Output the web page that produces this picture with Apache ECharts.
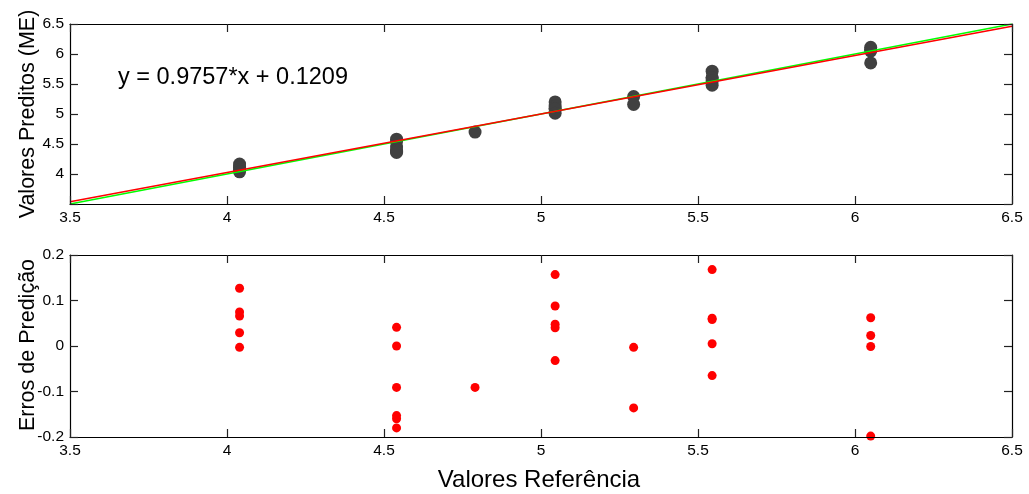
<!DOCTYPE html>
<html>
<head>
<meta charset="utf-8">
<script src="https://cdn.jsdelivr.net/npm/echarts@6/dist/echarts.min.js"></script>
<style>html,body{margin:0;padding:0;background:#fff}#c{width:1029px;height:494px}</style>
</head>
<body>
<div id="c"></div>
<script>
// ---- data ----
const refValues  = [4.04,4.04,4.04,4.04,4.04, 4.54,4.54,4.54,4.54,4.54,4.54, 4.79, 5.045,5.045,5.045,5.045,5.045, 5.295,5.295, 5.545,5.545,5.545,5.545,5.545, 6.05,6.05,6.05,6.05];
const predValues = [4.167,4.115,4.106,4.069,4.037, 4.581,4.540,4.449,4.387,4.380,4.360, 4.699, 5.202,5.133,5.093,5.085,5.013, 5.292,5.159, 5.713,5.606,5.603,5.550,5.480, 6.112,6.073,6.049,5.852];
const errValues  = [0.127,0.075,0.066,0.029,-0.003, 0.041,0.000,-0.091,-0.153,-0.160,-0.180, -0.091, 0.157,0.088,0.048,0.040,-0.032, -0.003,-0.136, 0.168,0.061,0.058,0.005,-0.065, 0.062,0.023,-0.001,-0.198];
const fitSlope = 0.9757, fitIntercept = 0.1209;
const xRange = [3.5, 6.5];
const xTicks = ['3.5','4','4.5','5','5.5','6','6.5'];
const topYTicks = ['','4','4.5','5','5.5','6','6.5'];
const botYTicks = ['-0.2','-0.1','0','0.1','0.2'];
const equationText = 'y = 0.9757*x + 0.1209';
const topYTitle = 'Valores Preditos (ME)';
const botYTitle = 'Erros de Predição';
const xTitle = 'Valores Referência';

const FONT = 'Arial, "Liberation Sans", sans-serif';
const predPts = refValues.map((r,i)=>[r,predValues[i]]);
const errPts = refValues.map((r,i)=>[r,errValues[i]]);
const idLine = [[xRange[0],xRange[0]],[xRange[1],xRange[1]]];
const fitLine = xRange.map(x=>[x, fitSlope*x+fitIntercept]);

function tickStyle(){ return {show:true, inside:true, length:8, lineStyle:{color:'#222', width:1.2}}; }
function lineStyle(){ return {show:true, onZero:false, lineStyle:{color:'#000', width:1.2}}; }
function xAx(grid, pos, labels){
  return {type:'value', gridIndex:grid, position:pos, min:3.5, max:6.5, interval:0.5,
    axisLine:lineStyle(), axisTick:tickStyle(), splitLine:{show:false}, z:10,
    axisLabel:{show:labels, color:'#000', fontFamily:FONT, fontSize:15.5, margin:6,
      formatter:v=>xTicks[Math.round((v-3.5)/0.5)]}};
}
function yAx(grid, pos, labels, min, max, interval, ticks){
  return {type:'value', gridIndex:grid, position:pos, min:min, max:max, interval:interval,
    axisLine:lineStyle(), axisTick:tickStyle(), splitLine:{show:false}, z:10,
    axisLabel:{show:labels, color:'#000', fontFamily:FONT, fontSize:15.5, margin:6,
      formatter:v=>ticks[Math.round((v-min)/interval)]}};
}

const chart = echarts.init(document.getElementById('c'), null, {renderer:'canvas'});
chart.setOption({
  animation:false,
  backgroundColor:'#fff',
  grid:[
    {left:70, top:24, width:942, height:180},
    {left:70, top:255, width:942, height:182}
  ],
  xAxis:[xAx(0,'bottom',true), xAx(0,'top',false), xAx(1,'bottom',true), xAx(1,'top',false)],
  yAxis:[
    yAx(0,'left',true,3.5,6.5,0.5,topYTicks), yAx(0,'right',false,3.5,6.5,0.5,topYTicks),
    yAx(1,'left',true,-0.2,0.2,0.1,botYTicks), yAx(1,'right',false,-0.2,0.2,0.1,botYTicks)
  ],
  series:[
    {type:'scatter', xAxisIndex:0, yAxisIndex:0, data:predPts, symbolSize:13,
      itemStyle:{color:'#404040', opacity:1}, z:2},
    {type:'line', xAxisIndex:0, yAxisIndex:0, data:idLine, showSymbol:false, symbol:'none',
      lineStyle:{color:'#00ff00', width:1.5}, z:3},
    {type:'line', xAxisIndex:0, yAxisIndex:0, data:fitLine, showSymbol:false, symbol:'none',
      lineStyle:{color:'#ff0000', width:1.5}, z:4},
    {type:'scatter', xAxisIndex:2, yAxisIndex:2, data:errPts, symbolSize:9,
      itemStyle:{color:'#ff0000', opacity:1}, z:2}
  ],
  graphic:[
    {type:'text', x:118, y:78, style:{text:equationText, fill:'#000', font:'23.5px '+FONT, textVerticalAlign:'middle'}},
    {type:'text', x:28, y:114, rotation:Math.PI/2, style:{text:topYTitle, fill:'#000', font:'21.5px '+FONT, textAlign:'center', textVerticalAlign:'middle'}},
    {type:'text', x:28, y:345, rotation:Math.PI/2, style:{text:botYTitle, fill:'#000', font:'21.5px '+FONT, textAlign:'center', textVerticalAlign:'middle'}},
    {type:'text', x:539, y:480, style:{text:xTitle, fill:'#000', font:'24px '+FONT, textAlign:'center', textVerticalAlign:'middle'}}
  ]
});
</script>
</body>
</html>
